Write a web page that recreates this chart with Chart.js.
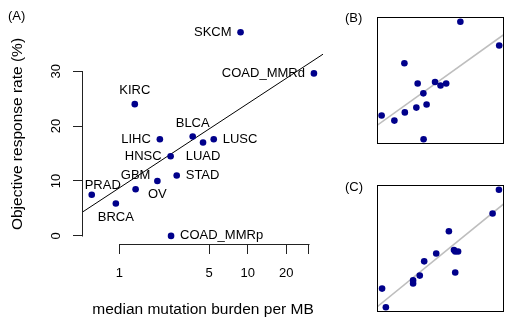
<!DOCTYPE html>
<html>
<head>
<meta charset="utf-8">
<script src="https://cdn.jsdelivr.net/npm/chart.js@4.4.0/dist/chart.umd.min.js"></script>
<style>
    body { margin: 0; overflow: hidden; background: #fff; }
    #wrap { position: relative; width: 506px; height: 320px; overflow: hidden; }
    canvas { position: absolute; }
</style>
</head>
<body>
<div id="wrap">
    <canvas id="main-chart" width="506" height="320" style="left:0;top:0"></canvas>
    <canvas id="panel-b" width="135" height="135" style="left:373px;top:13px"></canvas>
    <canvas id="panel-c" width="135" height="135" style="left:373px;top:181px"></canvas>
</div>
<script>
const cancerTypes = ['SKCM', 'COAD_MMRd', 'KIRC', 'LIHC', 'BLCA', 'LUAD', 'LUSC', 'HNSC', 'STAD', 'GBM', 'OV', 'PRAD', 'BRCA', 'COAD_MMRp'];
const mutationBurden = [8.8, 32.8, 1.32, 2.07, 3.73, 4.49, 5.44, 2.51, 2.80, 1.34, 1.98, 0.61, 0.94, 2.53];
const responseRate = [37.1, 29.6, 24.0, 17.6, 18.1, 17.0, 17.6, 14.5, 11.0, 8.5, 10.0, 7.5, 5.9, 0];
// x values of panel (C), axis not shown in the original
const panelCScore = [37.0, 35.0, 21.2, 23.2, 22.8, 17.2, 24.1, 13.4, 23.2, 9.9, 12.0, 9.9, 0.1, 1.3];

const fitLineX = [0.5216, 38.6];
const fitLineY = [4.4, 33.1];
const panelCLineX = [-1.5, 38.6];
const panelCLineY = [0.1, 32.7];

const xTicks = [1, 5, 10, 20, 30];
const xTickLabels = ['1', '5', '10', '20', ''];
const yTicks = [0, 10, 20, 30];

const labelSide = {
    SKCM: 'left', COAD_MMRd: 'left', KIRC: 'above', LIHC: 'left', BLCA: 'above',
    LUAD: 'below', LUSC: 'right', HNSC: 'left', STAD: 'right', GBM: 'above',
    OV: 'below', PRAD: 'aboveRight', BRCA: 'below', COAD_MMRp: 'right'
};

const dotColor = '#00008b';
Chart.defaults.font.family = '"Liberation Sans", Arial, Helvetica, sans-serif';
Chart.defaults.color = '#000';

function toPoints(xs, ys) {
    return xs.map((x, i) => ({ x: x, y: ys[i] }));
}

const pointLabels = {
    id: 'pointLabels',
    afterDatasetsDraw(chart) {
        const ctx = chart.ctx;
        const meta = chart.getDatasetMeta(0);
        ctx.save();
        ctx.font = '13px "Liberation Sans", Arial, sans-serif';
        ctx.fillStyle = '#000';
        ctx.textBaseline = 'middle';
        meta.data.forEach((pt, i) => {
            const name = cancerTypes[i];
            const side = labelSide[name];
            let x = pt.x, y = pt.y;
            if (side === 'left') { ctx.textAlign = 'right'; x -= 9; }
            else if (side === 'right') { ctx.textAlign = 'left'; x += 9; }
            else if (side === 'above') { ctx.textAlign = 'center'; y -= 13.5; }
            else if (side === 'below') { ctx.textAlign = 'center'; y += 13.5; }
            else { ctx.textAlign = 'center'; x += 11; y -= 9.5; }
            ctx.fillText(name, x, y);
        });
        // panel tags
        ctx.textAlign = 'left';
        ctx.fillText('(A)', 8, 16);
        ctx.fillText('(B)', 345, 18);
        ctx.fillText('(C)', 345, 187);
        ctx.restore();
    }
};

// R style axis lines: only from first to last tick
const axisLines = {
    id: 'axisLines',
    afterDraw(chart) {
        const ctx = chart.ctx;
        const xs = chart.scales.x;
        const ys = chart.scales.y;
        const area = chart.chartArea;
        ctx.save();
        ctx.strokeStyle = '#222';
        ctx.lineWidth = 1;
        ctx.beginPath();
        ctx.moveTo(area.left - 0.5, Math.round(ys.getPixelForValue(yTicks[0])) + 0.5);
        ctx.lineTo(area.left - 0.5, Math.round(ys.getPixelForValue(yTicks[yTicks.length - 1])) + 0.5);
        ctx.moveTo(Math.round(xs.getPixelForValue(xTicks[0])) + 0.5, area.bottom + 0.5);
        ctx.lineTo(Math.round(xs.getPixelForValue(xTicks[xTicks.length - 1])) + 0.5, area.bottom + 0.5);
        ctx.stroke();
        ctx.restore();
    }
};

const panelBox = {
    id: 'panelBox',
    afterDraw(chart) {
        const ctx = chart.ctx;
        const a = chart.chartArea;
        ctx.save();
        ctx.strokeStyle = '#000';
        ctx.lineWidth = 1;
        ctx.strokeRect(a.left + 0.5, a.top + 0.5, a.right - a.left - 1, a.bottom - a.top - 1);
        ctx.restore();
    }
};

new Chart(document.getElementById('main-chart'), {
    type: 'scatter',
    data: {
        datasets: [{
            data: toPoints(mutationBurden, responseRate),
            backgroundColor: dotColor,
            borderWidth: 0,
            pointRadius: 3.3
        }, {
            data: toPoints(fitLineX, fitLineY),
            showLine: true,
            borderColor: '#000',
            borderWidth: 1,
            pointRadius: 0
        }]
    },
    options: {
        responsive: false,
        animation: false,
        layout: { padding: { left: 0, right: 183, top: 24, bottom: 0 } },
        plugins: { legend: { display: false }, tooltip: { enabled: false } },
        scales: {
            x: {
                type: 'logarithmic',
                min: 0.5216,
                max: 38.6,
                bounds: 'data',
                afterBuildTicks: scale => { scale.ticks = xTicks.map(v => ({ value: v })); },
                afterFit: scale => { scale.height = 76; },
                grid: { drawOnChartArea: false, tickLength: 10, color: '#222' },
                border: { display: false },
                ticks: {
                    autoSkip: false, minRotation: 0, maxRotation: 0, padding: 12,
                    font: { size: 13 },
                    callback: (value, index) => xTickLabels[index]
                },
                title: {
                    display: true,
                    text: 'median mutation burden per MB',
                    font: { size: 15.5 },
                    padding: { top: 0, bottom: 1 }
                }
            },
            y: {
                min: -1.48,
                max: 38.6,
                bounds: 'data',
                afterBuildTicks: scale => { scale.ticks = yTicks.map(v => ({ value: v })); },
                afterFit: scale => { scale.width = 83; },
                grid: { drawOnChartArea: false, tickLength: 10, color: '#222' },
                border: { display: false },
                ticks: {
                    minRotation: 90, maxRotation: 90, crossAlign: 'center', padding: 9,
                    font: { size: 13 },
                    callback: value => String(value)
                },
                title: {
                    display: true,
                    text: 'Objective response rate (%)',
                    font: { size: 15.5 },
                    padding: { top: 8, bottom: 0 }
                }
            }
        }
    },
    plugins: [pointLabels, axisLines]
});

function smallPanel(canvasId, xs, lineX, lineY, xScale) {
    new Chart(document.getElementById(canvasId), {
        type: 'scatter',
        data: {
            datasets: [{
                data: toPoints(xs, responseRate),
                backgroundColor: dotColor,
                borderWidth: 0,
                pointRadius: 3.3
            }, {
                data: toPoints(lineX, lineY),
                showLine: true,
                borderColor: '#bebebe',
                borderWidth: 1.6,
                pointRadius: 0
            }]
        },
        options: {
            responsive: false,
            animation: false,
            layout: { padding: 0 },
            plugins: { legend: { display: false }, tooltip: { enabled: false } },
            scales: {
                x: Object.assign({ display: false, bounds: 'data' }, xScale),
                y: { display: false, min: -1.48, max: 38.6, bounds: 'data' }
            }
        },
        plugins: [panelBox]
    });
}

smallPanel('panel-b', mutationBurden, fitLineX, fitLineY, { type: 'logarithmic', min: 0.5216, max: 38.6 });
smallPanel('panel-c', panelCScore, panelCLineX, panelCLineY, { type: 'linear', min: -1.5, max: 38.6 });
</script>
</body>
</html>
